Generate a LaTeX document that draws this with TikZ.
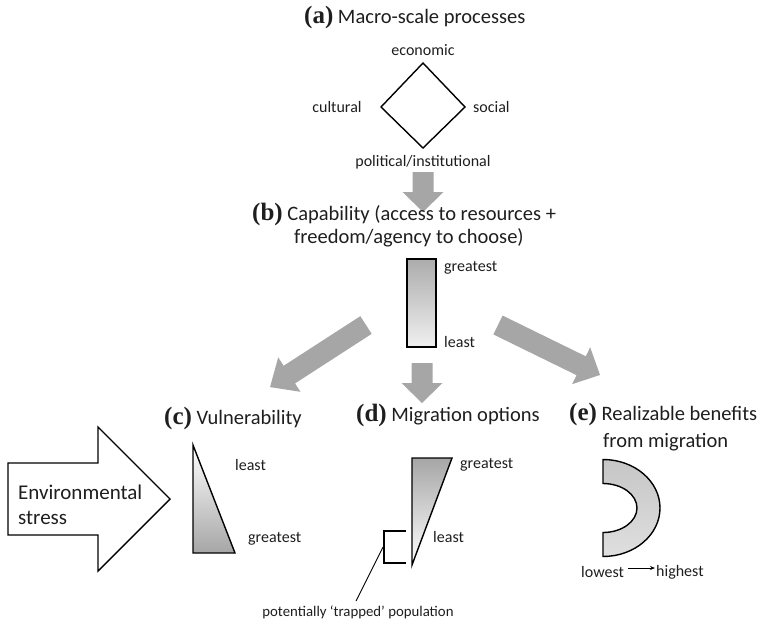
\documentclass[tikz,border=0pt]{standalone}
\usepackage{fontspec}
\setmainfont{Liberation Serif}
\setsansfont{Carlito}
\usetikzlibrary{arrows.meta,calc}
\definecolor{arrowgray}{RGB}{166,166,166}
\definecolor{txt}{RGB}{30,30,30}
% x, y, angle, length, head length
\newcommand\bigarrow[5]{%
  \fill[arrowgray, shift={(#1,#2)}, rotate=#3]
    (0,10.5) -- ({#4-#5},10.5) -- ({#4-#5},20.5) -- (#4,0) -- ({#4-#5},-20.5) -- ({#4-#5},-10.5) -- (0,-10.5) -- cycle;}
\newcommand\plet[1]{{\rmfamily\bfseries\fontsize{25}{28}\selectfont #1}}
\tikzset{
  lab/.style={font=\sffamily\fontsize{16}{19}\selectfont, text=txt, inner sep=0pt},
  small/.style={font=\sffamily\fontsize{14.8}{17}\selectfont, text=txt, inner sep=0pt},
  ttl/.style={font=\sffamily\fontsize{20.5}{24}\selectfont, text=txt, inner sep=0pt},
  big/.style={font=\sffamily\fontsize{21}{25}\selectfont, text=txt, inner sep=0pt},
  outline/.style={draw=black, line width=1.4pt, line join=miter},
}
\begin{document}
\begin{tikzpicture}[x=1pt, y=1pt]
\useasboundingbox (0,0) rectangle (766,-622);

% (a)
\node[ttl, anchor=west] (ta) at (304,-17) {\plet{(a)} Macro-scale processes};
\draw[outline] (423,-63) coordinate (dtop) -- (465,-107) coordinate (dright)
  -- (423,-148) coordinate (dbot) -- (381,-107) coordinate (dleft) -- cycle;
\node[lab] (eco) at (423,-50) {economic};
\node[lab] (cul) at (337,-107) {cultural};
\node[lab, anchor=west] (soc) at (473,-107) {social};
\node[lab] (pol) at (423,-162) {political/institutional};

% arrow a -> b
\bigarrow{423}{-172}{-90}{40}{20}

% (b)
\node[ttl, anchor=west] (tb1) at (252,-214) {\plet{(b)} Capability (access to resources +};
\node[ttl, anchor=west] (tb2) at (294,-238) {freedom/agency to choose)};
\shade[top color=gray!65, bottom color=gray!12] (407,-259) rectangle (436,-347);
\draw[outline] (407,-259) rectangle (436,-347);
\node[lab, anchor=west] (bg) at (444,-268) {greatest};
\node[lab, anchor=west] (bl) at (444,-342) {least};

% arrows from b
\bigarrow{366}{-325}{212.9}{114.3}{23}
\bigarrow{422}{-363}{-90}{40}{20}
\bigarrow{498}{-325}{-26.1}{113.6}{21}

% (c)
\node[ttl, anchor=west] (tc) at (164,-418) {\plet{(c)} Vulnerability};
\draw[outline, fill=white] (8,-463) -- (98,-463) -- (98,-427) -- (170,-499)
  -- (98,-571) -- (98,-535) -- (8,-535) -- cycle;
\node[big, anchor=west] (env1) at (18,-492) {Environmental};
\node[big, anchor=west] (env2) at (18,-518) {stress};
\shade[top color=white, bottom color=gray!70] (193,-445) -- (193,-553) -- (235,-553) -- cycle;
\draw[outline] (193,-445) -- (193,-553) -- (235,-553) -- cycle;
\node[lab, anchor=west] (cl) at (235,-465) {least};
\node[lab, anchor=west] (cg) at (248,-539) {greatest};

% (d)
\node[ttl, anchor=west] (td) at (356,-415) {\plet{(d)} Migration options};
\shade[top color=gray!70, bottom color=white] (412,-458) -- (452,-458) -- (412,-565) -- cycle;
\draw[outline] (412,-458) -- (452,-458) -- (412,-565) -- cycle;
\node[lab, anchor=west] (dg) at (460,-465) {greatest};
\node[lab, anchor=west] (dl) at (433,-537) {least};
\draw[line width=1.5pt] (406,-531) -- (384,-531) -- (384,-563) -- (406,-563);
\coordinate (br) at (383,-547);
\node[small] (trap) at (358,-612) {potentially ‘trapped’ population};
\coordinate (lead) at (356,-601);
\draw[line width=0.9pt] (br) -- (lead);

% (e)
\node[ttl, anchor=west] (te1) at (569,-414) {\plet{(e)} Realizable benefits};
\node[ttl, anchor=west] (te2) at (603,-442) {from migration};
\shade[top color=gray!45, middle color=gray!78, bottom color=gray!25]
  (603,-459.5) arc[start angle=90, end angle=-90, x radius=57, y radius=48.5]
  -- (603,-532.5) arc[start angle=-90, end angle=90, x radius=34, y radius=24.5] -- cycle;
\draw[outline]
  (603,-459.5) arc[start angle=90, end angle=-90, x radius=57, y radius=48.5]
  -- (603,-532.5) arc[start angle=-90, end angle=90, x radius=34, y radius=24.5] -- cycle;
\node[lab, anchor=west] (low) at (581,-572) {lowest};
\node[lab, anchor=west] (high) at (656,-572) {highest};
\draw[line width=0.9pt, -{Stealth[length=5pt, width=4pt]}] ($(low.east)+(4,4)$) -- ($(high.west)+(-1,4)$);
\end{tikzpicture}
\end{document}
